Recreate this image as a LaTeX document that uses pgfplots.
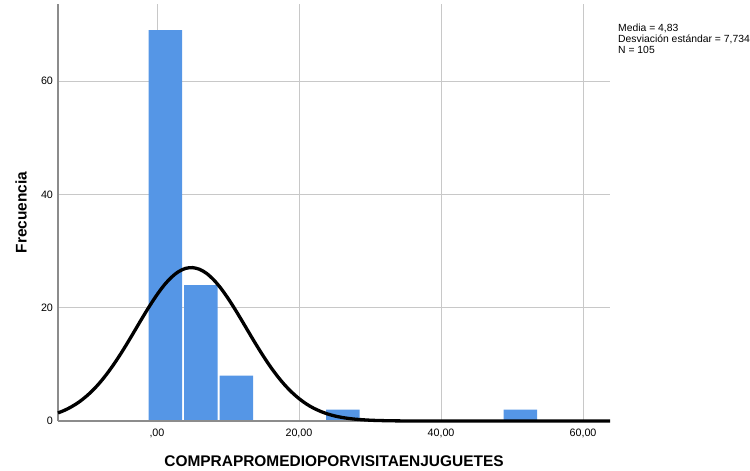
\documentclass[border=0pt]{standalone}
\usepackage{pgfplots}
\pgfplotsset{compat=1.18}
\usepackage{fontspec}
\setmainfont{Liberation Sans}

\definecolor{barblue}{RGB}{85,150,230}
\definecolor{gridgray}{RGB}{200,200,200}
\definecolor{spinegray}{RGB}{140,140,140}

\begin{document}
\begin{tikzpicture}
\path[use as bounding box] (-58bp,-50bp) rectangle (692bp,421bp);
\begin{axis}[
  at={(0,0)}, anchor=south west,
  scale only axis,
  width=552bp, height=417bp,
  xmin=-13.94, xmax=63.8,
  ymin=0, ymax=73.6,
  axis lines=left,
  axis line style={-, draw=spinegray, line width=1.1bp},
  xtick={0,20,40,60},
  xticklabels={{,00},{20,00},{40,00},{60,00}},
  ytick={0,20,40,60},
  major tick length=0pt,
  grid=major,
  major grid style={draw=gridgray, line width=0.9bp},
  /pgf/number format/assume math mode=true,
  tick label style={font=\fontsize{10.8}{12}\selectfont, text=black},
  xticklabel style={yshift=-4bp},
  yticklabel style={xshift=-1.5bp},
  xlabel={COMPRAPROMEDIOPORVISITAENJUGUETES},
  ylabel={Frecuencia},
  label style={font=\bfseries\fontsize{15.5}{18}\selectfont},
  x label style={at={(axis description cs:0.5,-0.096)}, anchor=center},
  y label style={at={(axis description cs:-0.067,0.5)}, anchor=center},
  clip=false,
]
% histogram: bins of width 5 starting at -1.31
\addplot[ybar, bar width=4.72, fill=barblue, draw=none]
  coordinates {(1.19,69) (6.19,24) (11.19,8) (26.19,2) (51.19,2)};
% baseline redrawn over the bar bottoms
\draw[spinegray, line width=1.1bp] (axis cs:-13.94,0) -- (axis cs:63.8,0);
% normal curve (mean 4.83, sd 7.734, N = 105, bin width 5)
\addplot[black, line width=3.3bp, smooth, line join=round] coordinates {
  (-13.94,1.42) (-13,1.90) (-12,2.54) (-11,3.33) (-10,4.31) (-9,5.47)
  (-8,6.84) (-7,8.41) (-6,10.16) (-5,12.07) (-4,14.11) (-3,16.22)
  (-2,18.34) (-1,20.38) (0,22.28) (1,23.96) (2,25.33) (3,26.33)
  (4,26.93) (5,27.07) (6,26.77) (7,26.04) (8,24.90) (9,23.42)
  (10,21.66) (11,19.70) (12,17.62) (13,15.50) (14,13.41) (15,11.41)
  (16,9.54) (17,7.85) (18,6.35) (19,5.06) (20,3.96) (21,3.04)
  (22,2.30) (23,1.72) (24,1.25) (25,0.90) (26,0.64) (27,0.45)
  (28,0.31) (30,0.14) (32,0.06) (34,0.02) (36,0.01) (40,0)
  (50,0) (63.8,0)
};
\end{axis}
\node[anchor=north west, inner sep=0pt, align=left,
      font=\fontsize{10.4}{10.8}\selectfont]
  at (560bp,397bp) {Media = 4,83\\Desviación estándar = 7,734\\N = 105};
\end{tikzpicture}
\end{document}
